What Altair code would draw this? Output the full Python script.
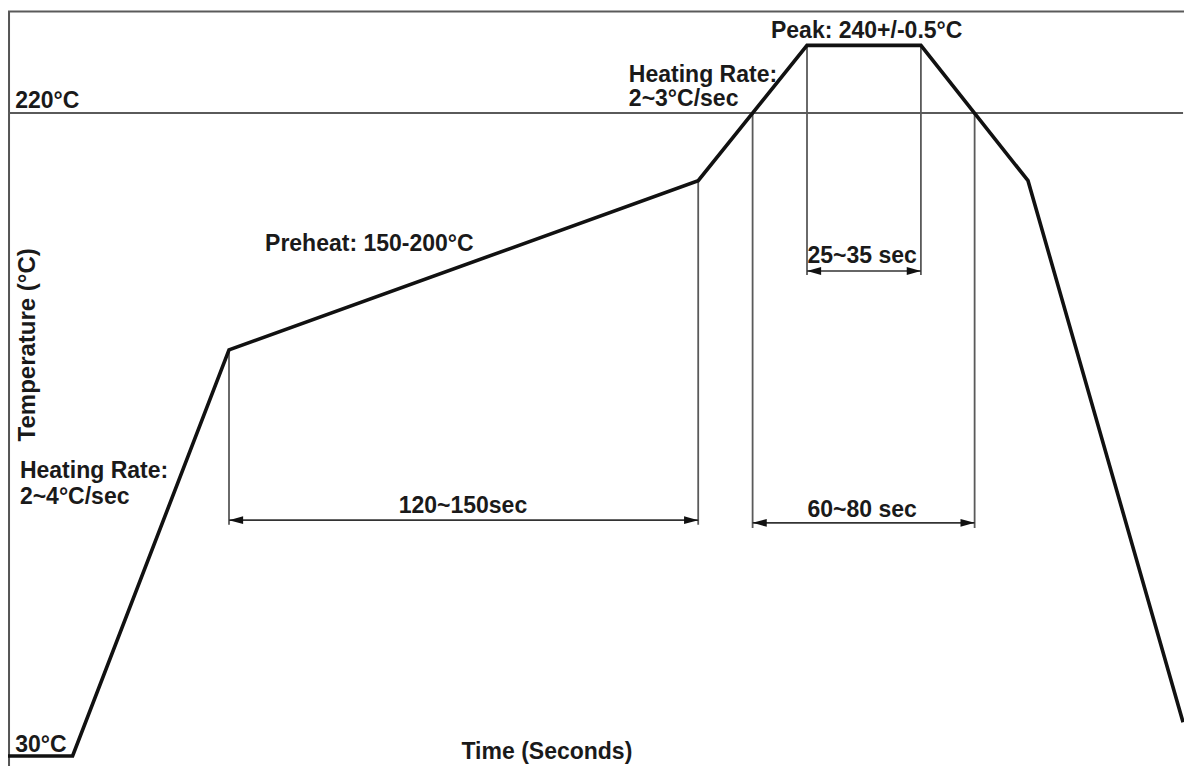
import altair as alt
import pandas as pd

# ---- data (time in s, temperature in °C) ----
profile_time = [0, 19, 65, 203, 235, 268.5, 300, 345.6]
profile_temp = [30, 30, 150, 200, 240, 240, 200, 40]

# vertical guide lines: time, top temp, bottom temp
guide_time = [65, 203, 219, 284.3, 235, 268.5]
guide_top = [150, 200, 220, 220, 240, 240]
guide_bottom = [98.3, 98.3, 97.4, 97.4, 172.1, 172.1]

# dimension arrows
arrow_start = [65, 219, 235]
arrow_end = [203, 284.3, 268.5]
arrow_temp = [99.7, 98.9, 173.3]

# horizontal reference lines
href_temp = [250, 220]
href_start = [0, 0]
href_end = [345.9, 345.6]

# text labels
left_text = ["220°C", "30°C", "Heating Rate:", "2~4°C/sec", "Preheat: 150-200°C",
             "Heating Rate:", "2~3°C/sec", "Peak: 240+/-0.5°C"]
left_x = [2.1, 2.1, 3.5, 3.5, 75.6, 182.6, 182.6, 224.4]
left_y = [221.5, 31.2, 112.2, 104.5, 179.2, 229.2, 222.1, 242.2]

center_text = ["120~150sec", "60~80 sec", "25~35 sec", "Time (Seconds)"]
center_x = [133.8, 251.2, 251.2, 158.5]
center_y = [101.8, 100.6, 175.7, 29.2]

ylabel_text = ["Temperature (°C)"]
ylabel_x = [8.0]
ylabel_y = [151.5]

X_DOMAIN = [0, 345.88]
Y_DOMAIN = [27.05, 251.03]

xs = alt.Scale(domain=X_DOMAIN, nice=False, zero=False)
ys = alt.Scale(domain=Y_DOMAIN, nice=False, zero=False)

profile = pd.DataFrame({"t": profile_time, "T": profile_temp})
guides = pd.DataFrame({"t": guide_time, "top": guide_top, "bot": guide_bottom})
arrows = pd.DataFrame({"t1": arrow_start, "t2": arrow_end, "T": arrow_temp})
hrefs = pd.DataFrame({"T": href_temp, "t1": href_start, "t2": href_end})
left_df = pd.DataFrame({"txt": left_text, "t": left_x, "T": left_y})
center_df = pd.DataFrame({"txt": center_text, "t": center_x, "T": center_y})
ylab_df = pd.DataFrame({"txt": ylabel_text, "t": ylabel_x, "T": ylabel_y})
border_df = pd.DataFrame({"t": [0.3], "T1": [Y_DOMAIN[0]], "T2": [250]})

X = lambda f: alt.X(f, type="quantitative", scale=xs, axis=None)
Y = lambda f: alt.Y(f, type="quantitative", scale=ys, axis=None)

GRAY = "#5a5a5a"

border = alt.Chart(border_df).mark_rule(color="#555555", strokeWidth=2).encode(
    x=X("t"), y=Y("T1"), y2="T2")

href = alt.Chart(hrefs).mark_rule(color=GRAY, strokeWidth=2).encode(
    x=X("t1"), x2="t2", y=Y("T"))

vguides = alt.Chart(guides).mark_rule(color=GRAY, strokeWidth=1.8).encode(
    x=X("t"), y=Y("top"), y2="bot")

arrow_lines = alt.Chart(arrows).mark_rule(color="#333333", strokeWidth=1.6).encode(
    x=X("t1"), x2="t2", y=Y("T"))

LEFT_HEAD = "M0,0 L1,-0.28 L1,0.28 Z"
RIGHT_HEAD = "M0,0 L-1,-0.28 L-1,0.28 Z"

heads_left = alt.Chart(arrows).mark_point(
    shape=LEFT_HEAD, size=800, filled=True, color="#111111", opacity=1, strokeWidth=0
).encode(x=X("t1"), y=Y("T"))
heads_right = alt.Chart(arrows).mark_point(
    shape=RIGHT_HEAD, size=800, filled=True, color="#111111", opacity=1, strokeWidth=0
).encode(x=X("t2"), y=Y("T"))

line = alt.Chart(profile).mark_line(color="#111111", strokeWidth=3.6, strokeJoin="miter").encode(
    x=X("t"), y=Y("T"), order="t:Q")

FONT = "Liberation Sans"
FS = 23
txt_left = alt.Chart(left_df).mark_text(
    align="left", baseline="alphabetic", font=FONT, fontSize=FS, fontWeight="bold", color="#1a1a1a"
).encode(x=X("t"), y=Y("T"), text="txt:N")
txt_center = alt.Chart(center_df).mark_text(
    align="center", baseline="alphabetic", font=FONT, fontSize=FS, fontWeight="bold", color="#1a1a1a"
).encode(x=X("t"), y=Y("T"), text="txt:N")
txt_ylab = alt.Chart(ylab_df).mark_text(
    align="center", baseline="alphabetic", angle=270, font=FONT, fontSize=FS + 1, fontWeight="bold", color="#1a1a1a"
).encode(x=X("t"), y=Y("T"), text="txt:N")

chart = alt.layer(
    border, href, vguides, arrow_lines, heads_left, heads_right, line,
    txt_left, txt_center, txt_ylab
).properties(
    width=1176, height=758,
    padding=0,
    autosize=alt.AutoSizeParams(type="none"),
    background="white",
).configure_view(stroke=None)

chart.save("out.html", embed_options={"renderer": "svg", "actions": False})
